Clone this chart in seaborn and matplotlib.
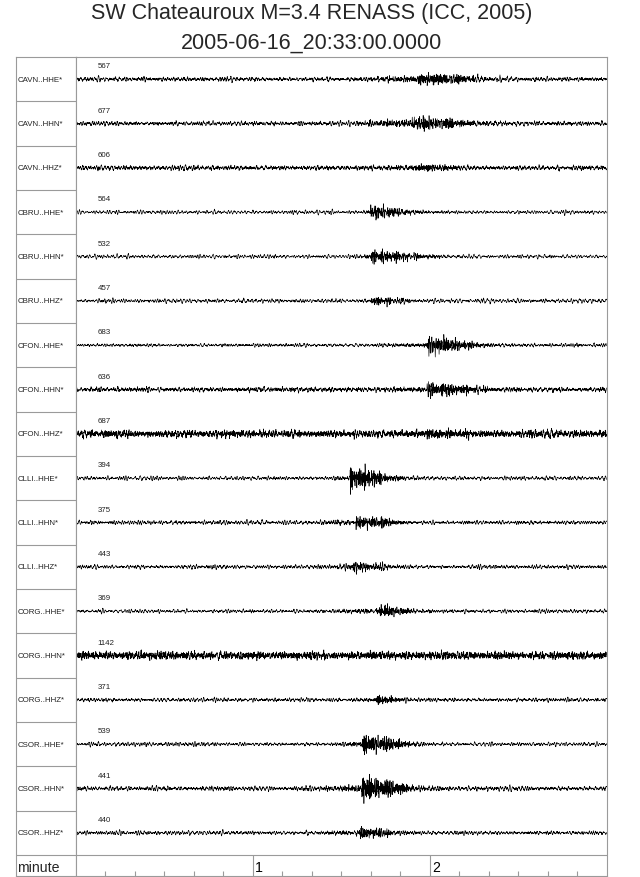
import numpy as np
import pandas as pd
import matplotlib
matplotlib.use("Agg")
import matplotlib.pyplot as plt
import seaborn as sns

# ---------------- data ----------------
title_line1 = "SW Chateauroux M=3.4 RENASS (ICC, 2005)"
title_line2 = "2005-06-16_20:33:00.0000"
stations = ["CAVN..HHE*", "CAVN..HHN*", "CAVN..HHZ*",
            "CBRU..HHE*", "CBRU..HHN*", "CBRU..HHZ*",
            "CFON..HHE*", "CFON..HHN*", "CFON..HHZ*",
            "CLLI..HHE*", "CLLI..HHN*", "CLLI..HHZ*",
            "CORG..HHE*", "CORG..HHN*", "CORG..HHZ*",
            "CSOR..HHE*", "CSOR..HHN*", "CSOR..HHZ*"]
max_counts = [567, 677, 606, 564, 532, 457, 683, 636, 687,
              394, 375, 443, 369, 1142, 371, 539, 441, 440]
# event timing in seconds after 20:33:00
buildup_s = [95, 90, 100, 95, 95, 95, 95, 100, 110, 85, 80, 85, 85, 0, 95, 85, 80, 80]
onset_s = [116, 114, 116, 100, 100, 100, 119, 119, 119, 93, 95, 94, 102, 0, 102, 97, 97, 96]
strong_end_s = [129, 129, 127, 106, 111, 110, 128, 130, 128, 103, 106, 104, 109, 0, 107, 106, 107, 106]
coda_end_s = [148, 148, 142, 125, 128, 118, 145, 150, 140, 115, 116, 112, 125, 0, 118, 120, 120, 115]
# apparent half-amplitudes on screen (pixels)
peak_amp_px = [8, 8, 4, 9, 10, 4.5, 12, 10, 5, 14, 8, 7, 7, 0, 6, 13, 16, 7]
pre_amp_px = [3, 3.5, 2, 1.5, 1.5, 1.5, 1.5, 2, 2, 2, 2, 2, 2, 0, 1.5, 2, 3, 2]
noise_px = [1.5, 1.5, 1.5, 1.4, 1.4, 1.5, 1.1, 1.5, 2.0, 1.4, 1.4, 1.4, 1.3, 2.0, 1.3, 1.4, 1.6, 1.4]
hf_noise_px = [0.8, 0.8, 1.0, 0.4, 0.4, 0.5, 0.5, 1.0, 2.2, 0.5, 0.6, 0.6, 0.5, 2.6, 0.6, 0.5, 0.8, 0.6]
minute_labels = ["1", "2"]
duration_s = 180

# ---------------- texture of the traces ----------------
fs = 20.0
t = np.arange(0, duration_s, 1.0 / fs)
rng = np.random.default_rng(2005)


def band(lo, hi):
    x = rng.standard_normal(t.size)
    X = np.fft.rfft(x)
    f = np.fft.rfftfreq(t.size, 1.0 / fs)
    X[(f < lo) | (f > hi)] = 0
    y = np.fft.irfft(X, n=t.size)
    return y / y.std()


ROW_PX = (856 - 58) / 18.0
rows = []
for i, st in enumerate(stations):
    sig = noise_px[i] * 0.6 * band(0.5, 1.6) + hf_noise_px[i] * 0.5 * band(3.0, 9.5)
    if peak_amp_px[i] > 0:
        b0, on, se, ce = buildup_s[i], onset_s[i], strong_end_s[i], coda_end_s[i]
        env = np.zeros_like(t)
        m0 = (t >= b0) & (t < on)
        env[m0] = pre_amp_px[i] * np.clip((t[m0] - b0) / max(on - b0, 1e-6) * 1.5, 0, 1)
        m1 = (t >= on) & (t < se)
        env[m1] = peak_amp_px[i] * (1.0 - 0.35 * (t[m1] - on) / max(se - on, 1e-6))
        m2 = t >= se
        tau = (ce - se) / 2.3
        env[m2] = 0.65 * peak_amp_px[i] * np.exp(-(t[m2] - se) / tau)
        sig = sig + env * band(1.2, 6.0) / 2.8
    y = (i + 0.5) + sig / ROW_PX
    rows.append(pd.DataFrame({"t": t, "y": y, "trace": st}))
df = pd.concat(rows, ignore_index=True)

# ---------------- figure ----------------
sns.set_style("white")
plt.rcParams["font.family"] = ["Liberation Sans", "DejaVu Sans"]

W, H = 640, 878
fig = plt.figure(figsize=(W / 100, H / 100), dpi=100)


def axes_px(l, tp, r, b):
    return fig.add_axes([l / W, 1 - b / H, (r - l) / W, (b - tp) / H])


n = len(stations)
ymax = n + (877 - 856) / ROW_PX
gray = "#9a9a9a"

ax_lab = axes_px(16, 58, 76, 877)
ax = axes_px(76, 58, 606.7, 877)

sns.lineplot(data=df, x="t", y="y", units="trace", estimator=None, sort=False,
             color="black", linewidth=0.45, ax=ax, legend=False)

for a in (ax, ax_lab):
    a.set_ylim(ymax, 0)
    a.set_xticks([])
    a.set_yticks([])
    a.set_xlabel("")
    a.set_ylabel("")
    for s in a.spines.values():
        s.set_color(gray)
        s.set_linewidth(0.8)

ax.set_xlim(0, duration_s)
ax.axhline(n, color=gray, lw=0.8)
ax.vlines([60, 120], n, ymax, color=gray, lw=0.8)
minor = [s for s in range(10, duration_s, 10) if s % 60 != 0]
ax.vlines(minor, ymax - 5 / ROW_PX, ymax, color=gray, lw=0.8)
for k, lab in enumerate(minute_labels):
    ax.text(60 * (k + 1) + 0.7, n + (ymax - n) / 2 + 0.03, lab, fontsize=10.2,
            ha="left", va="center", color="black")
for i, c in enumerate(max_counts):
    ax.text(7.4, i + 0.2, str(c), fontsize=5.7, ha="left", va="center", color="#222222")

ax_lab.set_xlim(0, 60)
ax_lab.hlines(np.arange(1, n + 1), 0, 60, color=gray, lw=0.8)
for i, st in enumerate(stations):
    ax_lab.text(1.2, i + 0.5, st, fontsize=5.7, ha="left", va="center", color="#222222")
ax_lab.text(1.0, n + (ymax - n) / 2 + 0.03, "minute", fontsize=10.2, ha="left", va="center")

fig.text(311.5 / W, 1 - 19.0 / H, title_line1, fontsize=15.5, ha="center", va="baseline")
fig.text(311.5 / W, 1 - 49.0 / H, title_line2, fontsize=15.5, ha="center", va="baseline")

fig.savefig("out.png", dpi=100)
